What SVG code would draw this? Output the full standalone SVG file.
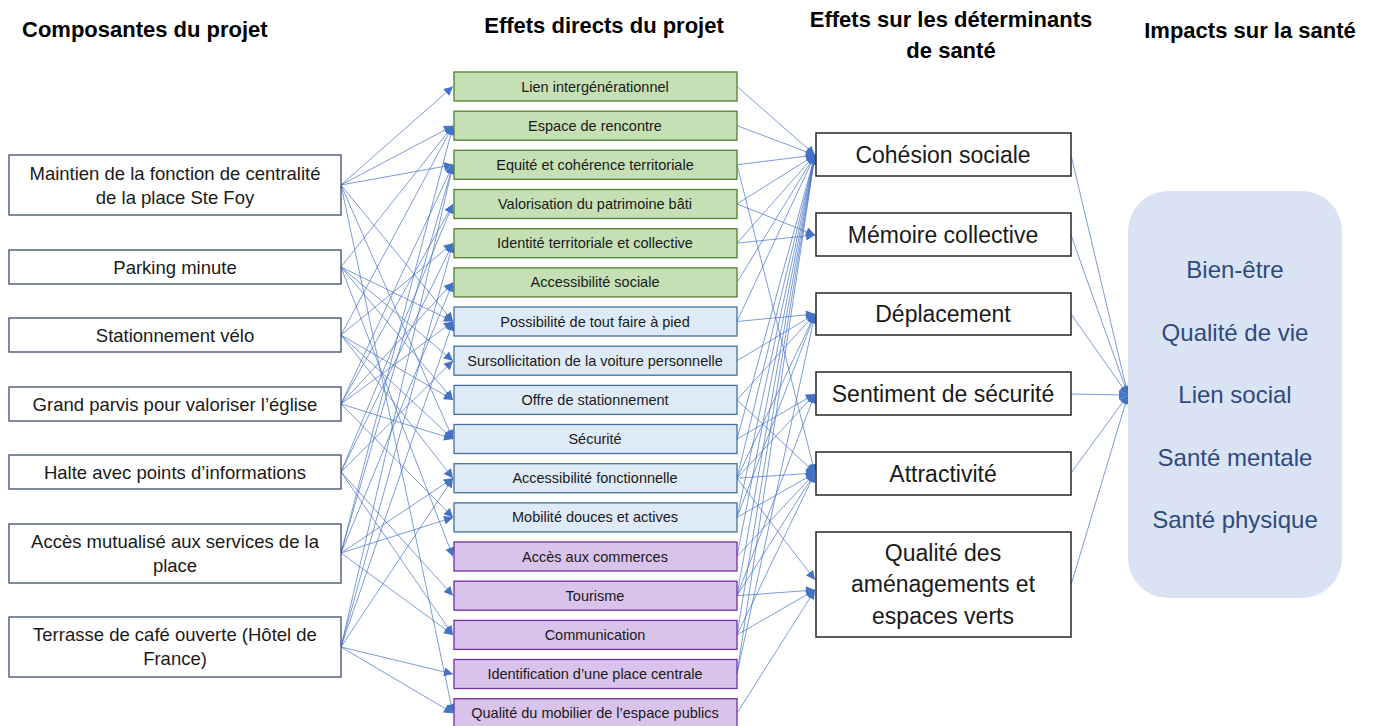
<svg xmlns="http://www.w3.org/2000/svg" width="1374" height="726" viewBox="0 0 1374 726">
<defs>
<marker id="ah" viewBox="0 0 10 10" refX="10" refY="5" markerWidth="10" markerHeight="9" orient="auto" markerUnits="userSpaceOnUse">
<path d="M0,0 L10,5 L0,10 z" fill="#4472C4"/>
</marker>
</defs>
<style>
text{font-family:"Liberation Sans",Arial,sans-serif;fill:#1a1a1a}
.h{font-weight:bold;font-size:22px;fill:#000}
.lb{fill:#fff;stroke:#3b4a6b;stroke-width:1.3}
.lt{font-size:18.5px;text-anchor:middle}
.g{fill:#C5E0B4;stroke:#507E32;stroke-width:1.3}
.b{fill:#DEEBF7;stroke:#41719C;stroke-width:1.3}
.p{fill:#D9C3EA;stroke:#7030A0;stroke-width:1.3}
.mt{font-size:14.5px;text-anchor:middle}
.rb{fill:#fff;stroke:#262626;stroke-width:1.5}
.rt{font-size:23px;text-anchor:middle}
.big{fill:#DAE3F3}
.bt{font-size:24px;text-anchor:middle;fill:#2F4A80}
#connectors line{stroke:#4472C4;stroke-opacity:0.7;stroke-width:1;marker-end:url(#ah)}
</style>
<rect width="1374" height="726" fill="#fff"/>
<g id="headers">
<text class="h" x="22" y="37">Composantes du projet</text>
<text class="h" x="604" y="33" text-anchor="middle">Effets directs du projet</text>
<text class="h" x="951" y="27" text-anchor="middle">Effets sur les déterminants</text>
<text class="h" x="951" y="58" text-anchor="middle">de santé</text>
<text class="h" x="1250" y="38" text-anchor="middle">Impacts sur la santé</text>
</g>
<g id="connectors">
<line x1="341" y1="185" x2="453" y2="86.5"/>
<line x1="341" y1="185" x2="453" y2="125.7"/>
<line x1="341" y1="185" x2="453" y2="164.8"/>
<line x1="341" y1="185" x2="453" y2="321.5"/>
<line x1="341" y1="185" x2="453" y2="439"/>
<line x1="341" y1="185" x2="453" y2="713.2"/>
<line x1="341" y1="267" x2="453" y2="125.7"/>
<line x1="341" y1="267" x2="453" y2="321.5"/>
<line x1="341" y1="267" x2="453" y2="360.7"/>
<line x1="341" y1="267" x2="453" y2="399.9"/>
<line x1="341" y1="267" x2="453" y2="556.5"/>
<line x1="341" y1="335" x2="453" y2="125.7"/>
<line x1="341" y1="335" x2="453" y2="243.2"/>
<line x1="341" y1="335" x2="453" y2="399.9"/>
<line x1="341" y1="335" x2="453" y2="439"/>
<line x1="341" y1="335" x2="453" y2="478.2"/>
<line x1="341" y1="404" x2="453" y2="164.8"/>
<line x1="341" y1="404" x2="453" y2="204"/>
<line x1="341" y1="404" x2="453" y2="282.4"/>
<line x1="341" y1="404" x2="453" y2="321.5"/>
<line x1="341" y1="404" x2="453" y2="439"/>
<line x1="341" y1="404" x2="453" y2="517.4"/>
<line x1="341" y1="472" x2="453" y2="204"/>
<line x1="341" y1="472" x2="453" y2="243.2"/>
<line x1="341" y1="472" x2="453" y2="360.7"/>
<line x1="341" y1="472" x2="453" y2="595.7"/>
<line x1="341" y1="472" x2="453" y2="634.9"/>
<line x1="341" y1="553" x2="453" y2="125.7"/>
<line x1="341" y1="553" x2="453" y2="164.8"/>
<line x1="341" y1="553" x2="453" y2="282.4"/>
<line x1="341" y1="553" x2="453" y2="478.2"/>
<line x1="341" y1="553" x2="453" y2="517.4"/>
<line x1="341" y1="553" x2="453" y2="634.9"/>
<line x1="341" y1="647" x2="453" y2="164.8"/>
<line x1="341" y1="647" x2="453" y2="243.2"/>
<line x1="341" y1="647" x2="453" y2="321.5"/>
<line x1="341" y1="647" x2="453" y2="478.2"/>
<line x1="341" y1="647" x2="453" y2="674"/>
<line x1="341" y1="647" x2="453" y2="713.2"/>
<line x1="737" y1="86.5" x2="815" y2="155"/>
<line x1="737" y1="125.7" x2="815" y2="155"/>
<line x1="737" y1="164.8" x2="815" y2="155"/>
<line x1="737" y1="164.8" x2="815" y2="473"/>
<line x1="737" y1="204" x2="815" y2="155"/>
<line x1="737" y1="204" x2="815" y2="235"/>
<line x1="737" y1="243.2" x2="815" y2="155"/>
<line x1="737" y1="243.2" x2="815" y2="235"/>
<line x1="737" y1="282.4" x2="815" y2="155"/>
<line x1="737" y1="321.5" x2="815" y2="314"/>
<line x1="737" y1="321.5" x2="815" y2="155"/>
<line x1="737" y1="360.7" x2="815" y2="314"/>
<line x1="737" y1="399.9" x2="815" y2="314"/>
<line x1="737" y1="399.9" x2="815" y2="473"/>
<line x1="737" y1="439" x2="815" y2="394"/>
<line x1="737" y1="439" x2="815" y2="155"/>
<line x1="737" y1="478.2" x2="815" y2="473"/>
<line x1="737" y1="478.2" x2="815" y2="394"/>
<line x1="737" y1="478.2" x2="815" y2="314"/>
<line x1="737" y1="478.2" x2="815" y2="580"/>
<line x1="737" y1="478.2" x2="815" y2="155"/>
<line x1="737" y1="517.4" x2="815" y2="473"/>
<line x1="737" y1="517.4" x2="815" y2="314"/>
<line x1="737" y1="517.4" x2="815" y2="155"/>
<line x1="737" y1="556.5" x2="815" y2="473"/>
<line x1="737" y1="556.5" x2="815" y2="155"/>
<line x1="737" y1="595.7" x2="815" y2="473"/>
<line x1="737" y1="595.7" x2="815" y2="590"/>
<line x1="737" y1="595.7" x2="815" y2="394"/>
<line x1="737" y1="595.7" x2="815" y2="155"/>
<line x1="737" y1="634.9" x2="815" y2="590"/>
<line x1="737" y1="634.9" x2="815" y2="473"/>
<line x1="737" y1="634.9" x2="815" y2="155"/>
<line x1="737" y1="674" x2="815" y2="155"/>
<line x1="737" y1="674" x2="815" y2="314"/>
<line x1="737" y1="713.2" x2="815" y2="590"/>
<line x1="1071" y1="155" x2="1128" y2="395"/>
<line x1="1071" y1="235" x2="1128" y2="395"/>
<line x1="1071" y1="314" x2="1128" y2="395"/>
<line x1="1071" y1="394" x2="1128" y2="395"/>
<line x1="1071" y1="473" x2="1128" y2="395"/>
<line x1="1071" y1="585" x2="1128" y2="395"/>
</g>
<g id="c1"><rect class="lb" x="9" y="155" width="332" height="60"/><text class="lt" x="175" y="180">Maintien de la fonction de centralité</text><text class="lt" x="175" y="204">de la place Ste Foy</text></g>
<g id="c2"><rect class="lb" x="9" y="250" width="332" height="34"/><text class="lt" x="175" y="273.5">Parking minute</text></g>
<g id="c3"><rect class="lb" x="9" y="318" width="332" height="34"/><text class="lt" x="175" y="341.5">Stationnement vélo</text></g>
<g id="c4"><rect class="lb" x="9" y="387" width="332" height="34"/><text class="lt" x="175" y="410.5">Grand parvis pour valoriser l’église</text></g>
<g id="c5"><rect class="lb" x="9" y="455" width="332" height="34"/><text class="lt" x="175" y="478.5">Halte avec points d’informations</text></g>
<g id="c6"><rect class="lb" x="9" y="524" width="332" height="59"/><text class="lt" x="175" y="548">Accès mutualisé aux services de la</text><text class="lt" x="175" y="572">place</text></g>
<g id="c7"><rect class="lb" x="9" y="617" width="332" height="60"/><text class="lt" x="175" y="641">Terrasse de café ouverte (Hôtel de</text><text class="lt" x="175" y="665">France)</text></g>
<g id="m1"><rect class="g" x="454" y="72" width="283" height="29"/><text class="mt" x="595" y="91.5">Lien intergénérationnel</text></g>
<g id="m2"><rect class="g" x="454" y="111.2" width="283" height="29"/><text class="mt" x="595" y="130.7">Espace de rencontre</text></g>
<g id="m3"><rect class="g" x="454" y="150.3" width="283" height="29"/><text class="mt" x="595" y="169.8">Equité et cohérence territoriale</text></g>
<g id="m4"><rect class="g" x="454" y="189.5" width="283" height="29"/><text class="mt" x="595" y="209">Valorisation du patrimoine bâti</text></g>
<g id="m5"><rect class="g" x="454" y="228.7" width="283" height="29"/><text class="mt" x="595" y="248.2">Identité territoriale et collective</text></g>
<g id="m6"><rect class="g" x="454" y="267.9" width="283" height="29"/><text class="mt" x="595" y="287.4">Accessibilité sociale</text></g>
<g id="m7"><rect class="b" x="454" y="307" width="283" height="29"/><text class="mt" x="595" y="326.5">Possibilité de tout faire à pied</text></g>
<g id="m8"><rect class="b" x="454" y="346.2" width="283" height="29"/><text class="mt" x="595" y="365.7">Sursollicitation de la voiture personnelle</text></g>
<g id="m9"><rect class="b" x="454" y="385.4" width="283" height="29"/><text class="mt" x="595" y="404.9">Offre de stationnement</text></g>
<g id="m10"><rect class="b" x="454" y="424.5" width="283" height="29"/><text class="mt" x="595" y="444">Sécurité</text></g>
<g id="m11"><rect class="b" x="454" y="463.7" width="283" height="29"/><text class="mt" x="595" y="483.2">Accessibilité fonctionnelle</text></g>
<g id="m12"><rect class="b" x="454" y="502.9" width="283" height="29"/><text class="mt" x="595" y="522.4">Mobilité douces et actives</text></g>
<g id="m13"><rect class="p" x="454" y="542" width="283" height="29"/><text class="mt" x="595" y="561.5">Accès aux commerces</text></g>
<g id="m14"><rect class="p" x="454" y="581.2" width="283" height="29"/><text class="mt" x="595" y="600.7">Tourisme</text></g>
<g id="m15"><rect class="p" x="454" y="620.4" width="283" height="29"/><text class="mt" x="595" y="639.9">Communication</text></g>
<g id="m16"><rect class="p" x="454" y="659.5" width="283" height="29"/><text class="mt" x="595" y="679">Identification d’une place centrale</text></g>
<g id="m17"><rect class="p" x="454" y="698.7" width="283" height="29"/><text class="mt" x="595" y="718.2">Qualité du mobilier de l’espace publics</text></g>
<g id="d1"><rect class="rb" x="816" y="133" width="255" height="43"/><text class="rt" x="943" y="162.5">Cohésion sociale</text></g>
<g id="d2"><rect class="rb" x="816" y="213" width="255" height="43"/><text class="rt" x="943" y="242.5">Mémoire collective</text></g>
<g id="d3"><rect class="rb" x="816" y="293" width="255" height="42"/><text class="rt" x="943" y="321.5">Déplacement</text></g>
<g id="d4"><rect class="rb" x="816" y="372" width="255" height="43"/><text class="rt" x="943" y="401.5">Sentiment de sécurité</text></g>
<g id="d5"><rect class="rb" x="816" y="452" width="255" height="43"/><text class="rt" x="943" y="481.5">Attractivité</text></g>
<g id="d6"><rect class="rb" x="816" y="532" width="255" height="105"/><text class="rt" x="943" y="561">Qualité des</text><text class="rt" x="943" y="592">aménagements et</text><text class="rt" x="943" y="624">espaces verts</text></g>
<g id="impacts"><rect class="big" x="1128" y="191" width="214" height="407" rx="40" ry="40"/>
<text class="bt" x="1235" y="278">Bien-être</text>
<text class="bt" x="1235" y="341">Qualité de vie</text>
<text class="bt" x="1235" y="403">Lien social</text>
<text class="bt" x="1235" y="466">Santé mentale</text>
<text class="bt" x="1235" y="528">Santé physique</text>
</g>
</svg>
